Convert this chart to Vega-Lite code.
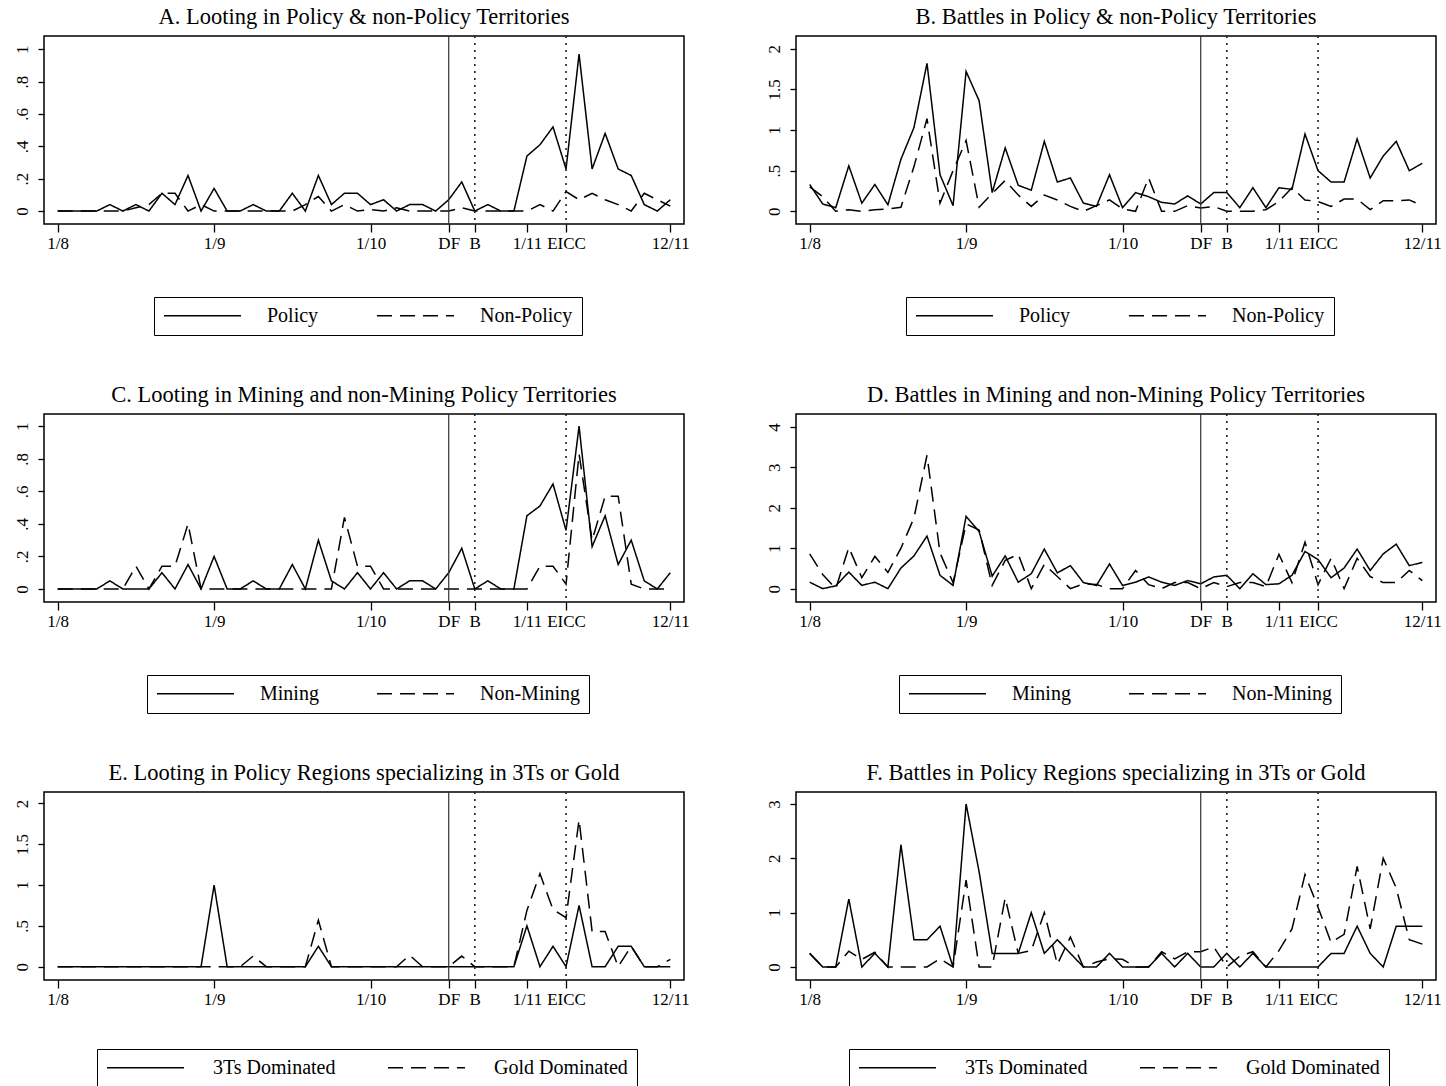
{
  "$schema": "https://vega.github.io/schema/vega-lite/v6.json",
  "background": "white",
  "padding": {"left": 12, "top": 4, "right": 5, "bottom": 0},
  "columns": 2,
  "spacing": {"row": 45, "column": 73},
  "resolve": {"scale": {"x": "independent", "y": "independent", "strokeDash": "independent"}, "legend": {"strokeDash": "independent"}},
  "datasets": {
    "events": [{"t": 30, "kind": "DF"}, {"t": 32, "kind": "B"}, {"t": 39, "kind": "EICC"}],
    "A": [
      {"t":0,"Policy":0,"Non-Policy":0},{"t":1,"Policy":0,"Non-Policy":0},{"t":2,"Policy":0,"Non-Policy":0},{"t":3,"Policy":0,"Non-Policy":0},
      {"t":4,"Policy":0.04,"Non-Policy":0},{"t":5,"Policy":0,"Non-Policy":0},{"t":6,"Policy":0.04,"Non-Policy":0.02},{"t":7,"Policy":0,"Non-Policy":0.04},
      {"t":8,"Policy":0.11,"Non-Policy":0.11},{"t":9,"Policy":0.04,"Non-Policy":0.11},{"t":10,"Policy":0.22,"Non-Policy":0},{"t":11,"Policy":0,"Non-Policy":0.04},
      {"t":12,"Policy":0.14,"Non-Policy":0},{"t":13,"Policy":0,"Non-Policy":0},{"t":14,"Policy":0,"Non-Policy":0},{"t":15,"Policy":0.04,"Non-Policy":0},
      {"t":16,"Policy":0,"Non-Policy":0},{"t":17,"Policy":0,"Non-Policy":0},{"t":18,"Policy":0.11,"Non-Policy":0},{"t":19,"Policy":0,"Non-Policy":0.04},
      {"t":20,"Policy":0.22,"Non-Policy":0.09},{"t":21,"Policy":0.04,"Non-Policy":0},{"t":22,"Policy":0.11,"Non-Policy":0.04},{"t":23,"Policy":0.11,"Non-Policy":0},
      {"t":24,"Policy":0.04,"Non-Policy":0.01},{"t":25,"Policy":0.07,"Non-Policy":0},{"t":26,"Policy":0,"Non-Policy":0.02},{"t":27,"Policy":0.04,"Non-Policy":0},
      {"t":28,"Policy":0.04,"Non-Policy":0},{"t":29,"Policy":0,"Non-Policy":0},{"t":30,"Policy":0.07,"Non-Policy":0},{"t":31,"Policy":0.18,"Non-Policy":0.02},
      {"t":32,"Policy":0,"Non-Policy":0},{"t":33,"Policy":0.04,"Non-Policy":0},{"t":34,"Policy":0,"Non-Policy":0},{"t":35,"Policy":0,"Non-Policy":0},
      {"t":36,"Policy":0.34,"Non-Policy":0},{"t":37,"Policy":0.41,"Non-Policy":0.04},{"t":38,"Policy":0.52,"Non-Policy":0},{"t":39,"Policy":0.26,"Non-Policy":0.12},
      {"t":40,"Policy":0.97,"Non-Policy":0.07},{"t":41,"Policy":0.26,"Non-Policy":0.11},{"t":42,"Policy":0.48,"Non-Policy":0.07},{"t":43,"Policy":0.26,"Non-Policy":0.04},
      {"t":44,"Policy":0.22,"Non-Policy":0},{"t":45,"Policy":0.04,"Non-Policy":0.11},{"t":46,"Policy":0,"Non-Policy":0.07},{"t":47,"Policy":0.07,"Non-Policy":0.03}
    ],
    "B": [
      {"t":0,"Policy":0.33,"Non-Policy":0.3},{"t":1,"Policy":0.09,"Non-Policy":0.18},{"t":2,"Policy":0.045,"Non-Policy":0},{"t":3,"Policy":0.56,"Non-Policy":0.02},
      {"t":4,"Policy":0.1,"Non-Policy":0},{"t":5,"Policy":0.33,"Non-Policy":0.02},{"t":6,"Policy":0.08,"Non-Policy":0.03},{"t":7,"Policy":0.64,"Non-Policy":0.05},
      {"t":8,"Policy":1.03,"Non-Policy":0.55},{"t":9,"Policy":1.82,"Non-Policy":1.14},{"t":10,"Policy":0.45,"Non-Policy":0.1},{"t":11,"Policy":0.07,"Non-Policy":0.5},
      {"t":12,"Policy":1.72,"Non-Policy":0.87},{"t":13,"Policy":1.36,"Non-Policy":0.05},{"t":14,"Policy":0.23,"Non-Policy":0.22},{"t":15,"Policy":0.78,"Non-Policy":0.38},
      {"t":16,"Policy":0.32,"Non-Policy":0.2},{"t":17,"Policy":0.26,"Non-Policy":0.06},{"t":18,"Policy":0.86,"Non-Policy":0.2},{"t":19,"Policy":0.36,"Non-Policy":0.14},
      {"t":20,"Policy":0.41,"Non-Policy":0.06},{"t":21,"Policy":0.1,"Non-Policy":0},{"t":22,"Policy":0.06,"Non-Policy":0.07},{"t":23,"Policy":0.45,"Non-Policy":0.14},
      {"t":24,"Policy":0.045,"Non-Policy":0.03},{"t":25,"Policy":0.23,"Non-Policy":0},{"t":26,"Policy":0.18,"Non-Policy":0.41},{"t":27,"Policy":0.11,"Non-Policy":0},
      {"t":28,"Policy":0.09,"Non-Policy":0},{"t":29,"Policy":0.19,"Non-Policy":0.07},{"t":30,"Policy":0.09,"Non-Policy":0.04},{"t":31,"Policy":0.23,"Non-Policy":0.06},
      {"t":32,"Policy":0.23,"Non-Policy":0},{"t":33,"Policy":0.045,"Non-Policy":0},{"t":34,"Policy":0.29,"Non-Policy":0},{"t":35,"Policy":0.045,"Non-Policy":0.02},
      {"t":36,"Policy":0.29,"Non-Policy":0.12},{"t":37,"Policy":0.27,"Non-Policy":0.29},{"t":38,"Policy":0.95,"Non-Policy":0.14},{"t":39,"Policy":0.5,"Non-Policy":0.12},
      {"t":40,"Policy":0.36,"Non-Policy":0.06},{"t":41,"Policy":0.36,"Non-Policy":0.15},{"t":42,"Policy":0.89,"Non-Policy":0.15},{"t":43,"Policy":0.41,"Non-Policy":0.02},
      {"t":44,"Policy":0.68,"Non-Policy":0.13},{"t":45,"Policy":0.86,"Non-Policy":0.13},{"t":46,"Policy":0.5,"Non-Policy":0.14},{"t":47,"Policy":0.59,"Non-Policy":0.07}
    ],
    "C": [
      {"t":0,"Mining":0,"Non-Mining":0},{"t":1,"Mining":0,"Non-Mining":0},{"t":2,"Mining":0,"Non-Mining":0},{"t":3,"Mining":0,"Non-Mining":0},
      {"t":4,"Mining":0.05,"Non-Mining":0},{"t":5,"Mining":0,"Non-Mining":0},{"t":6,"Mining":0,"Non-Mining":0.14},{"t":7,"Mining":0,"Non-Mining":0},
      {"t":8,"Mining":0.1,"Non-Mining":0.14},{"t":9,"Mining":0,"Non-Mining":0.14},{"t":10,"Mining":0.15,"Non-Mining":0.4},{"t":11,"Mining":0,"Non-Mining":0},
      {"t":12,"Mining":0.2,"Non-Mining":0},{"t":13,"Mining":0,"Non-Mining":0},{"t":14,"Mining":0,"Non-Mining":0},{"t":15,"Mining":0.05,"Non-Mining":0},
      {"t":16,"Mining":0,"Non-Mining":0},{"t":17,"Mining":0,"Non-Mining":0},{"t":18,"Mining":0.15,"Non-Mining":0},{"t":19,"Mining":0,"Non-Mining":0},
      {"t":20,"Mining":0.3,"Non-Mining":0},{"t":21,"Mining":0.05,"Non-Mining":0},{"t":22,"Mining":0,"Non-Mining":0.44},{"t":23,"Mining":0.1,"Non-Mining":0.14},
      {"t":24,"Mining":0,"Non-Mining":0.14},{"t":25,"Mining":0.1,"Non-Mining":0},{"t":26,"Mining":0,"Non-Mining":0},{"t":27,"Mining":0.05,"Non-Mining":0},
      {"t":28,"Mining":0.05,"Non-Mining":0},{"t":29,"Mining":0,"Non-Mining":0},{"t":30,"Mining":0.1,"Non-Mining":0},{"t":31,"Mining":0.25,"Non-Mining":0},
      {"t":32,"Mining":0,"Non-Mining":0},{"t":33,"Mining":0.05,"Non-Mining":0},{"t":34,"Mining":0,"Non-Mining":0},{"t":35,"Mining":0,"Non-Mining":0},
      {"t":36,"Mining":0.45,"Non-Mining":0},{"t":37,"Mining":0.51,"Non-Mining":0.14},{"t":38,"Mining":0.645,"Non-Mining":0.14},{"t":39,"Mining":0.36,"Non-Mining":0.03},
      {"t":40,"Mining":1.0,"Non-Mining":0.83},{"t":41,"Mining":0.26,"Non-Mining":0.3},{"t":42,"Mining":0.45,"Non-Mining":0.57},{"t":43,"Mining":0.15,"Non-Mining":0.57},
      {"t":44,"Mining":0.3,"Non-Mining":0.03},{"t":45,"Mining":0.05,"Non-Mining":0},{"t":46,"Mining":0,"Non-Mining":0},{"t":47,"Mining":0.1,"Non-Mining":0}
    ],
    "D": [
      {"t":0,"Mining":0.16,"Non-Mining":0.86},{"t":1,"Mining":0,"Non-Mining":0.35},{"t":2,"Mining":0.07,"Non-Mining":0},{"t":3,"Mining":0.41,"Non-Mining":1.02},
      {"t":4,"Mining":0.08,"Non-Mining":0.27},{"t":5,"Mining":0.16,"Non-Mining":0.8},{"t":6,"Mining":0,"Non-Mining":0.4},{"t":7,"Mining":0.51,"Non-Mining":1.0},
      {"t":8,"Mining":0.81,"Non-Mining":1.75},{"t":9,"Mining":1.3,"Non-Mining":3.3},{"t":10,"Mining":0.33,"Non-Mining":0.88},{"t":11,"Mining":0.08,"Non-Mining":0.15},
      {"t":12,"Mining":1.79,"Non-Mining":1.6},{"t":13,"Mining":1.41,"Non-Mining":1.45},{"t":14,"Mining":0.31,"Non-Mining":0.08},{"t":15,"Mining":0.81,"Non-Mining":0.7},
      {"t":16,"Mining":0.16,"Non-Mining":0.85},{"t":17,"Mining":0.37,"Non-Mining":0},{"t":18,"Mining":0.98,"Non-Mining":0.6},{"t":19,"Mining":0.39,"Non-Mining":0.3},
      {"t":20,"Mining":0.57,"Non-Mining":0},{"t":21,"Mining":0.15,"Non-Mining":0.12},{"t":22,"Mining":0.08,"Non-Mining":0.1},{"t":23,"Mining":0.61,"Non-Mining":0},
      {"t":24,"Mining":0.08,"Non-Mining":0},{"t":25,"Mining":0.16,"Non-Mining":0.45},{"t":26,"Mining":0.29,"Non-Mining":0.1},{"t":27,"Mining":0.16,"Non-Mining":0},
      {"t":28,"Mining":0.08,"Non-Mining":0.15},{"t":29,"Mining":0.2,"Non-Mining":0.15},{"t":30,"Mining":0.12,"Non-Mining":0},{"t":31,"Mining":0.29,"Non-Mining":0.15},
      {"t":32,"Mining":0.33,"Non-Mining":0.05},{"t":33,"Mining":0,"Non-Mining":0.15},{"t":34,"Mining":0.37,"Non-Mining":0.15},{"t":35,"Mining":0.1,"Non-Mining":0.05},
      {"t":36,"Mining":0.12,"Non-Mining":0.85},{"t":37,"Mining":0.33,"Non-Mining":0.15},{"t":38,"Mining":0.92,"Non-Mining":1.15},{"t":39,"Mining":0.72,"Non-Mining":0.1},
      {"t":40,"Mining":0.27,"Non-Mining":0.75},{"t":41,"Mining":0.51,"Non-Mining":0},{"t":42,"Mining":0.98,"Non-Mining":0.75},{"t":43,"Mining":0.45,"Non-Mining":0.3},
      {"t":44,"Mining":0.86,"Non-Mining":0.15},{"t":45,"Mining":1.1,"Non-Mining":0.15},{"t":46,"Mining":0.57,"Non-Mining":0.45},{"t":47,"Mining":0.65,"Non-Mining":0.2}
    ],
    "E": [
      {"t":0,"3Ts Dominated":0,"Gold Dominated":0},{"t":1,"3Ts Dominated":0,"Gold Dominated":0},{"t":2,"3Ts Dominated":0,"Gold Dominated":0},{"t":3,"3Ts Dominated":0,"Gold Dominated":0},
      {"t":4,"3Ts Dominated":0,"Gold Dominated":0},{"t":5,"3Ts Dominated":0,"Gold Dominated":0},{"t":6,"3Ts Dominated":0,"Gold Dominated":0},{"t":7,"3Ts Dominated":0,"Gold Dominated":0},
      {"t":8,"3Ts Dominated":0,"Gold Dominated":0},{"t":9,"3Ts Dominated":0,"Gold Dominated":0},{"t":10,"3Ts Dominated":0,"Gold Dominated":0},{"t":11,"3Ts Dominated":0,"Gold Dominated":0},
      {"t":12,"3Ts Dominated":1.0,"Gold Dominated":0},{"t":13,"3Ts Dominated":0,"Gold Dominated":0},{"t":14,"3Ts Dominated":0,"Gold Dominated":0},{"t":15,"3Ts Dominated":0,"Gold Dominated":0.13},
      {"t":16,"3Ts Dominated":0,"Gold Dominated":0},{"t":17,"3Ts Dominated":0,"Gold Dominated":0},{"t":18,"3Ts Dominated":0,"Gold Dominated":0},{"t":19,"3Ts Dominated":0,"Gold Dominated":0},
      {"t":20,"3Ts Dominated":0.25,"Gold Dominated":0.57},{"t":21,"3Ts Dominated":0,"Gold Dominated":0},{"t":22,"3Ts Dominated":0,"Gold Dominated":0},{"t":23,"3Ts Dominated":0,"Gold Dominated":0},
      {"t":24,"3Ts Dominated":0,"Gold Dominated":0},{"t":25,"3Ts Dominated":0,"Gold Dominated":0},{"t":26,"3Ts Dominated":0,"Gold Dominated":0},{"t":27,"3Ts Dominated":0,"Gold Dominated":0.14},
      {"t":28,"3Ts Dominated":0,"Gold Dominated":0},{"t":29,"3Ts Dominated":0,"Gold Dominated":0},{"t":30,"3Ts Dominated":0,"Gold Dominated":0},{"t":31,"3Ts Dominated":0,"Gold Dominated":0.13},
      {"t":32,"3Ts Dominated":0,"Gold Dominated":0},{"t":33,"3Ts Dominated":0,"Gold Dominated":0},{"t":34,"3Ts Dominated":0,"Gold Dominated":0},{"t":35,"3Ts Dominated":0,"Gold Dominated":0},
      {"t":36,"3Ts Dominated":0.5,"Gold Dominated":0.69},{"t":37,"3Ts Dominated":0,"Gold Dominated":1.14},{"t":38,"3Ts Dominated":0.25,"Gold Dominated":0.7},{"t":39,"3Ts Dominated":0,"Gold Dominated":0.6},
      {"t":40,"3Ts Dominated":0.75,"Gold Dominated":1.8},{"t":41,"3Ts Dominated":0,"Gold Dominated":0.43},{"t":42,"3Ts Dominated":0,"Gold Dominated":0.43},{"t":43,"3Ts Dominated":0.25,"Gold Dominated":0},
      {"t":44,"3Ts Dominated":0.25,"Gold Dominated":0.25},{"t":45,"3Ts Dominated":0,"Gold Dominated":0},{"t":46,"3Ts Dominated":0,"Gold Dominated":0},{"t":47,"3Ts Dominated":0,"Gold Dominated":0.09}
    ],
    "F": [
      {"t":0,"3Ts Dominated":0.25,"Gold Dominated":0.25},{"t":1,"3Ts Dominated":0,"Gold Dominated":0},{"t":2,"3Ts Dominated":0,"Gold Dominated":0},{"t":3,"3Ts Dominated":1.25,"Gold Dominated":0.29},
      {"t":4,"3Ts Dominated":0,"Gold Dominated":0.14},{"t":5,"3Ts Dominated":0.25,"Gold Dominated":0.27},{"t":6,"3Ts Dominated":0,"Gold Dominated":0},{"t":7,"3Ts Dominated":2.25,"Gold Dominated":0},
      {"t":8,"3Ts Dominated":0.5,"Gold Dominated":0},{"t":9,"3Ts Dominated":0.5,"Gold Dominated":0},{"t":10,"3Ts Dominated":0.75,"Gold Dominated":0.15},{"t":11,"3Ts Dominated":0,"Gold Dominated":0},
      {"t":12,"3Ts Dominated":3.0,"Gold Dominated":1.6},{"t":13,"3Ts Dominated":1.75,"Gold Dominated":0},{"t":14,"3Ts Dominated":0.25,"Gold Dominated":0},{"t":15,"3Ts Dominated":0.25,"Gold Dominated":1.27},
      {"t":16,"3Ts Dominated":0.25,"Gold Dominated":0.25},{"t":17,"3Ts Dominated":1.0,"Gold Dominated":0.3},{"t":18,"3Ts Dominated":0.25,"Gold Dominated":1.0},{"t":19,"3Ts Dominated":0.5,"Gold Dominated":0.05},
      {"t":20,"3Ts Dominated":0.25,"Gold Dominated":0.55},{"t":21,"3Ts Dominated":0,"Gold Dominated":0},{"t":22,"3Ts Dominated":0,"Gold Dominated":0.09},{"t":23,"3Ts Dominated":0.25,"Gold Dominated":0.15},
      {"t":24,"3Ts Dominated":0,"Gold Dominated":0.14},{"t":25,"3Ts Dominated":0,"Gold Dominated":0},{"t":26,"3Ts Dominated":0,"Gold Dominated":0},{"t":27,"3Ts Dominated":0.25,"Gold Dominated":0.28},
      {"t":28,"3Ts Dominated":0,"Gold Dominated":0.15},{"t":29,"3Ts Dominated":0.25,"Gold Dominated":0.28},{"t":30,"3Ts Dominated":0,"Gold Dominated":0.28},{"t":31,"3Ts Dominated":0,"Gold Dominated":0.37},
      {"t":32,"3Ts Dominated":0.25,"Gold Dominated":0},{"t":33,"3Ts Dominated":0,"Gold Dominated":0.2},{"t":34,"3Ts Dominated":0.25,"Gold Dominated":0.28},{"t":35,"3Ts Dominated":0,"Gold Dominated":0},
      {"t":36,"3Ts Dominated":0,"Gold Dominated":0.3},{"t":37,"3Ts Dominated":0,"Gold Dominated":0.7},{"t":38,"3Ts Dominated":0,"Gold Dominated":1.7},{"t":39,"3Ts Dominated":0,"Gold Dominated":1.1},
      {"t":40,"3Ts Dominated":0.25,"Gold Dominated":0.45},{"t":41,"3Ts Dominated":0.25,"Gold Dominated":0.6},{"t":42,"3Ts Dominated":0.75,"Gold Dominated":1.85},{"t":43,"3Ts Dominated":0.25,"Gold Dominated":0.7},
      {"t":44,"3Ts Dominated":0,"Gold Dominated":2.0},{"t":45,"3Ts Dominated":0.75,"Gold Dominated":1.45},{"t":46,"3Ts Dominated":0.75,"Gold Dominated":0.5},{"t":47,"3Ts Dominated":0.75,"Gold Dominated":0.42}
    ]
  },
  "concat": [
    {
      "title": "A. Looting in Policy & non-Policy Territories",
      "width": 640, "height": 188,
      "layer": [
        {"data": {"name": "A"}, "transform": [{"fold": ["Policy", "Non-Policy"], "as": ["series", "value"]}],
         "mark": {"type": "line", "color": "black", "strokeWidth": 1.5},
         "encoding": {
           "x": {"field": "t", "type": "quantitative", "title": null, "scale": {"domain": [-1.05, 48.05], "nice": false, "zero": false},
                 "axis": {"values": [0, 12, 24, 30, 32, 36, 39, 47], "labelExpr": "datum.value==0?'1/8':datum.value==12?'1/9':datum.value==24?'1/10':datum.value==30?'DF':datum.value==32?'B':datum.value==36?'1/11':datum.value==39?'EICC':'12/11'"}},
           "y": {"field": "value", "type": "quantitative", "title": null, "scale": {"domain": [-0.08, 1.082], "nice": false, "zero": false},
                 "axis": {"values": [0, 0.2, 0.4, 0.6, 0.8, 1]}},
           "strokeDash": {"field": "series", "type": "nominal", "scale": {"domain": ["Policy", "Non-Policy"], "range": [[1, 0], [15, 8]]},
                 "legend": {"legendX": 110, "legendY": 261, "encode": {"symbols": {"update": {"strokeDash": {"signal": "datum.index == 0 ? [1, 0] : [20, 11]"}}}}}}
         }},
        {"data": {"name": "events"}, "transform": [{"filter": "datum.kind == 'DF'"}], "mark": {"type": "rule", "color": "#333", "strokeWidth": 1.2}, "encoding": {"x": {"field": "t", "type": "quantitative", "title": null}}},
        {"data": {"name": "events"}, "transform": [{"filter": "datum.kind != 'DF'"}], "mark": {"type": "rule", "color": "#222", "strokeWidth": 1.6, "strokeDash": [2, 5]}, "encoding": {"x": {"field": "t", "type": "quantitative", "title": null}}}
      ]
    },
    {
      "title": "B. Battles in Policy & non-Policy Territories",
      "width": 640, "height": 188,
      "layer": [
        {"data": {"name": "B"}, "transform": [{"fold": ["Policy", "Non-Policy"], "as": ["series", "value"]}],
         "mark": {"type": "line", "color": "black", "strokeWidth": 1.5},
         "encoding": {
           "x": {"field": "t", "type": "quantitative", "title": null, "scale": {"domain": [-1.05, 48.05], "nice": false, "zero": false},
                 "axis": {"values": [0, 12, 24, 30, 32, 36, 39, 47], "labelExpr": "datum.value==0?'1/8':datum.value==12?'1/9':datum.value==24?'1/10':datum.value==30?'DF':datum.value==32?'B':datum.value==36?'1/11':datum.value==39?'EICC':'12/11'"}},
           "y": {"field": "value", "type": "quantitative", "title": null, "scale": {"domain": [-0.156, 2.156], "nice": false, "zero": false},
                 "axis": {"values": [0, 0.5, 1, 1.5, 2]}},
           "strokeDash": {"field": "series", "type": "nominal", "scale": {"domain": ["Policy", "Non-Policy"], "range": [[1, 0], [15, 8]]},
                 "legend": {"legendX": 110, "legendY": 261, "encode": {"symbols": {"update": {"strokeDash": {"signal": "datum.index == 0 ? [1, 0] : [20, 11]"}}}}}}
         }},
        {"data": {"name": "events"}, "transform": [{"filter": "datum.kind == 'DF'"}], "mark": {"type": "rule", "color": "#333", "strokeWidth": 1.2}, "encoding": {"x": {"field": "t", "type": "quantitative", "title": null}}},
        {"data": {"name": "events"}, "transform": [{"filter": "datum.kind != 'DF'"}], "mark": {"type": "rule", "color": "#222", "strokeWidth": 1.6, "strokeDash": [2, 5]}, "encoding": {"x": {"field": "t", "type": "quantitative", "title": null}}}
      ]
    },
    {
      "title": "C. Looting in Mining and non-Mining Policy Territories",
      "width": 640, "height": 188,
      "layer": [
        {"data": {"name": "C"}, "transform": [{"fold": ["Mining", "Non-Mining"], "as": ["series", "value"]}],
         "mark": {"type": "line", "color": "black", "strokeWidth": 1.5},
         "encoding": {
           "x": {"field": "t", "type": "quantitative", "title": null, "scale": {"domain": [-1.05, 48.05], "nice": false, "zero": false},
                 "axis": {"values": [0, 12, 24, 30, 32, 36, 39, 47], "labelExpr": "datum.value==0?'1/8':datum.value==12?'1/9':datum.value==24?'1/10':datum.value==30?'DF':datum.value==32?'B':datum.value==36?'1/11':datum.value==39?'EICC':'12/11'"}},
           "y": {"field": "value", "type": "quantitative", "title": null, "scale": {"domain": [-0.08, 1.075], "nice": false, "zero": false},
                 "axis": {"values": [0, 0.2, 0.4, 0.6, 0.8, 1]}},
           "strokeDash": {"field": "series", "type": "nominal", "scale": {"domain": ["Mining", "Non-Mining"], "range": [[1, 0], [15, 8]]},
                 "legend": {"legendX": 103, "legendY": 261, "encode": {"symbols": {"update": {"strokeDash": {"signal": "datum.index == 0 ? [1, 0] : [20, 11]"}}}}}}
         }},
        {"data": {"name": "events"}, "transform": [{"filter": "datum.kind == 'DF'"}], "mark": {"type": "rule", "color": "#333", "strokeWidth": 1.2}, "encoding": {"x": {"field": "t", "type": "quantitative", "title": null}}},
        {"data": {"name": "events"}, "transform": [{"filter": "datum.kind != 'DF'"}], "mark": {"type": "rule", "color": "#222", "strokeWidth": 1.6, "strokeDash": [2, 5]}, "encoding": {"x": {"field": "t", "type": "quantitative", "title": null}}}
      ]
    },
    {
      "title": "D. Battles in Mining and non-Mining Policy Territories",
      "width": 640, "height": 188,
      "layer": [
        {"data": {"name": "D"}, "transform": [{"fold": ["Mining", "Non-Mining"], "as": ["series", "value"]}],
         "mark": {"type": "line", "color": "black", "strokeWidth": 1.5},
         "encoding": {
           "x": {"field": "t", "type": "quantitative", "title": null, "scale": {"domain": [-1.05, 48.05], "nice": false, "zero": false},
                 "axis": {"values": [0, 12, 24, 30, 32, 36, 39, 47], "labelExpr": "datum.value==0?'1/8':datum.value==12?'1/9':datum.value==24?'1/10':datum.value==30?'DF':datum.value==32?'B':datum.value==36?'1/11':datum.value==39?'EICC':'12/11'"}},
           "y": {"field": "value", "type": "quantitative", "title": null, "scale": {"domain": [-0.33, 4.32], "nice": false, "zero": false},
                 "axis": {"values": [0, 1, 2, 3, 4]}},
           "strokeDash": {"field": "series", "type": "nominal", "scale": {"domain": ["Mining", "Non-Mining"], "range": [[1, 0], [15, 8]]},
                 "legend": {"legendX": 103, "legendY": 261, "encode": {"symbols": {"update": {"strokeDash": {"signal": "datum.index == 0 ? [1, 0] : [20, 11]"}}}}}}
         }},
        {"data": {"name": "events"}, "transform": [{"filter": "datum.kind == 'DF'"}], "mark": {"type": "rule", "color": "#333", "strokeWidth": 1.2}, "encoding": {"x": {"field": "t", "type": "quantitative", "title": null}}},
        {"data": {"name": "events"}, "transform": [{"filter": "datum.kind != 'DF'"}], "mark": {"type": "rule", "color": "#222", "strokeWidth": 1.6, "strokeDash": [2, 5]}, "encoding": {"x": {"field": "t", "type": "quantitative", "title": null}}}
      ]
    },
    {
      "title": "E. Looting in Policy Regions specializing in 3Ts or Gold",
      "width": 640, "height": 188,
      "layer": [
        {"data": {"name": "E"}, "transform": [{"fold": ["3Ts Dominated", "Gold Dominated"], "as": ["series", "value"]}],
         "mark": {"type": "line", "color": "black", "strokeWidth": 1.5},
         "encoding": {
           "x": {"field": "t", "type": "quantitative", "title": null, "scale": {"domain": [-1.05, 48.05], "nice": false, "zero": false},
                 "axis": {"values": [0, 12, 24, 30, 32, 36, 39, 47], "labelExpr": "datum.value==0?'1/8':datum.value==12?'1/9':datum.value==24?'1/10':datum.value==30?'DF':datum.value==32?'B':datum.value==36?'1/11':datum.value==39?'EICC':'12/11'"}},
           "y": {"field": "value", "type": "quantitative", "title": null, "scale": {"domain": [-0.163, 2.14], "nice": false, "zero": false},
                 "axis": {"values": [0, 0.5, 1, 1.5, 2]}},
           "strokeDash": {"field": "series", "type": "nominal", "scale": {"domain": ["3Ts Dominated", "Gold Dominated"], "range": [[1, 0], [15, 8]]},
                 "legend": {"legendX": 53, "legendY": 257, "columnPadding": 40, "labelOffset": 28, "encode": {"symbols": {"update": {"strokeDash": {"signal": "datum.index == 0 ? [1, 0] : [20, 11]"}}}}}}
         }},
        {"data": {"name": "events"}, "transform": [{"filter": "datum.kind == 'DF'"}], "mark": {"type": "rule", "color": "#333", "strokeWidth": 1.2}, "encoding": {"x": {"field": "t", "type": "quantitative", "title": null}}},
        {"data": {"name": "events"}, "transform": [{"filter": "datum.kind != 'DF'"}], "mark": {"type": "rule", "color": "#222", "strokeWidth": 1.6, "strokeDash": [2, 5]}, "encoding": {"x": {"field": "t", "type": "quantitative", "title": null}}}
      ]
    },
    {
      "title": "F. Battles in Policy Regions specializing in 3Ts or Gold",
      "width": 640, "height": 188,
      "layer": [
        {"data": {"name": "F"}, "transform": [{"fold": ["3Ts Dominated", "Gold Dominated"], "as": ["series", "value"]}],
         "mark": {"type": "line", "color": "black", "strokeWidth": 1.5},
         "encoding": {
           "x": {"field": "t", "type": "quantitative", "title": null, "scale": {"domain": [-1.05, 48.05], "nice": false, "zero": false},
                 "axis": {"values": [0, 12, 24, 30, 32, 36, 39, 47], "labelExpr": "datum.value==0?'1/8':datum.value==12?'1/9':datum.value==24?'1/10':datum.value==30?'DF':datum.value==32?'B':datum.value==36?'1/11':datum.value==39?'EICC':'12/11'"}},
           "y": {"field": "value", "type": "quantitative", "title": null, "scale": {"domain": [-0.24, 3.22], "nice": false, "zero": false},
                 "axis": {"values": [0, 1, 2, 3]}},
           "strokeDash": {"field": "series", "type": "nominal", "scale": {"domain": ["3Ts Dominated", "Gold Dominated"], "range": [[1, 0], [15, 8]]},
                 "legend": {"legendX": 53, "legendY": 257, "columnPadding": 40, "labelOffset": 28, "encode": {"symbols": {"update": {"strokeDash": {"signal": "datum.index == 0 ? [1, 0] : [20, 11]"}}}}}}
         }},
        {"data": {"name": "events"}, "transform": [{"filter": "datum.kind == 'DF'"}], "mark": {"type": "rule", "color": "#333", "strokeWidth": 1.2}, "encoding": {"x": {"field": "t", "type": "quantitative", "title": null}}},
        {"data": {"name": "events"}, "transform": [{"filter": "datum.kind != 'DF'"}], "mark": {"type": "rule", "color": "#222", "strokeWidth": 1.6, "strokeDash": [2, 5]}, "encoding": {"x": {"field": "t", "type": "quantitative", "title": null}}}
      ]
    }
  ],
  "config": {
    "font": "Liberation Serif",
    "view": {"stroke": "black", "strokeWidth": 1.5},
    "title": {"font": "Liberation Serif", "fontSize": 22.5, "fontWeight": "normal", "color": "black", "offset": 7, "anchor": "middle"},
    "axis": {"domain": false, "grid": false, "labelFont": "Liberation Serif", "labelFontSize": 17, "labelColor": "black", "tickColor": "black", "tickWidth": 1.3, "labelOverlap": false, "labelFlush": false},
    "axisX": {"tickSize": 8, "labelPadding": 3},
    "axisY": {"tickSize": 6, "labelPadding": 7, "labelAngle": -90, "labelAlign": "center", "labelBaseline": "bottom",
              "labelExpr": "datum.value == 0 ? '0' : (datum.value < 1 ? slice(format(datum.value, '.1f'), 1) : format(datum.value, '~g'))"},
    "legend": {"orient": "none", "direction": "horizontal", "columns": 2, "gridAlign": "all", "title": null,
               "symbolType": "stroke", "symbolSize": 5929, "symbolStrokeWidth": 1.5, "symbolStrokeColor": "black",
               "labelFont": "Liberation Serif", "labelFontSize": 20, "labelColor": "black", "labelOffset": 25, "columnPadding": 16,
               "padding": 9, "strokeColor": "black", "fillColor": "white", "clipHeight": 19, "labelLimit": 400}
  }
}
